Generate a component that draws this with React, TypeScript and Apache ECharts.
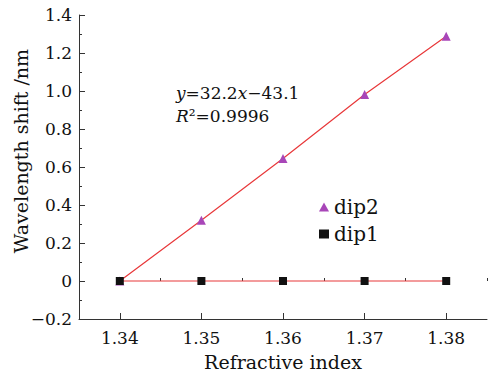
import React, { useEffect, useRef } from "react";
import * as echarts from "echarts";

const xValues = [1.34, 1.35, 1.36, 1.37, 1.38];
const dip1Values = [0, 0, 0, 0, 0];
const dip2Values = [0, 0.32, 0.645, 0.982, 1.288];
const xMajorTicks = [1.34, 1.35, 1.36, 1.37, 1.38];
const xMinorTicks = [1.335, 1.345, 1.355, 1.365, 1.375, 1.385];
const seriesNames = ["dip2", "dip1"];
const yAxisTitle = "Wavelength shift /nm";
const xAxisTitle = "Refractive index";
const eqLine = "{i|y}=32.2{i|x}\u221243.1";
const r2Line = "{i|R}\u00b2=0.9996";

const FONT = "DejaVu Serif";

export default function App() {
  const ref = useRef<HTMLDivElement>(null);
  useEffect(() => {
    if (!ref.current) return;
    const chart = echarts.init(ref.current, null, { renderer: "svg" });
    const axisColor = "#333";
    chart.setOption({
      animation: false,
      backgroundColor: "#fff",
      grid: { left: 79, right: 12, top: 15, bottom: 57, outerBoundsMode: "none" },
      legend: {
        orient: "vertical",
        left: 314,
        top: 192,
        itemGap: 7,
        itemWidth: 10,
        itemHeight: 9,
        textStyle: { fontFamily: FONT, fontSize: 20, color: "#111" },
        data: [
          { name: seriesNames[0], icon: "triangle" },
          { name: seriesNames[1], icon: "rect" },
        ],
      },
      xAxis: [
        {
          type: "value",
          min: 1.335,
          max: 1.385,
          position: "bottom",
          axisLine: { show: true, onZero: false, lineStyle: { color: axisColor, width: 1 } },
          axisTick: { show: true, inside: true, length: 6, customValues: xMajorTicks, lineStyle: { color: axisColor } },
          axisLabel: {
            show: true,
            customValues: xMajorTicks,
            margin: 10,
            fontFamily: FONT,
            fontSize: 17,
            color: "#111",
            formatter: (v: number) => v.toFixed(2),
          },
          splitLine: { show: false },
          name: xAxisTitle,
          nameLocation: "middle",
          nameGap: 33,
          nameTextStyle: { fontFamily: FONT, fontSize: 19, color: "#111" },
        },
        {
          type: "value",
          min: 1.335,
          max: 1.385,
          position: "bottom",
          axisLine: { show: false },
          axisTick: { show: true, inside: true, length: 3, customValues: xMinorTicks, lineStyle: { color: axisColor } },
          axisLabel: { show: false },
          splitLine: { show: false },
        },
      ],
      yAxis: {
        type: "value",
        min: -0.2,
        max: 1.4,
        interval: 0.2,
        axisLine: { show: true, onZero: false, lineStyle: { color: axisColor, width: 1 } },
        axisTick: { show: true, inside: true, length: 6, lineStyle: { color: axisColor } },
        minorTick: { show: true, splitNumber: 2, length: 3, lineStyle: { color: axisColor } },
        axisLabel: {
          margin: 7,
          fontFamily: FONT,
          fontSize: 17,
          color: "#111",
          formatter: (v: number) => {
            if (Math.abs(v) < 1e-9) return "0";
            const s = Math.abs(v).toFixed(1);
            return v < 0 ? "\u2212" + s : s;
          },
        },
        splitLine: { show: false },
      },
      graphic: [
        {
          type: "text",
          x: 21,
          y: 151,
          rotation: Math.PI / 2,
          style: {
            text: yAxisTitle,
            fontFamily: FONT,
            fontSize: 19,
            fill: "#111",
            align: "center",
            verticalAlign: "middle",
          },
        },
        {
          type: "text",
          left: 176,
          top: 84,
          style: {
            text: eqLine,
            fontFamily: FONT,
            fontSize: 17,
            fill: "#111",
            rich: { i: { fontFamily: FONT, fontStyle: "italic", fontSize: 17, fill: "#111" } },
          },
        },
        {
          type: "text",
          left: 176,
          top: 107,
          style: {
            text: r2Line,
            fontFamily: FONT,
            fontSize: 17,
            fill: "#111",
            rich: { i: { fontFamily: FONT, fontStyle: "italic", fontSize: 17, fill: "#111" } },
          },
        },
      ],
      series: [
        {
          name: seriesNames[0],
          type: "line",
          xAxisIndex: 0,
          data: xValues.map((x, i) => [x, dip2Values[i]]),
          symbol: "triangle",
          symbolSize: 9,
          itemStyle: { color: "#a846b8" },
          lineStyle: { color: "#e8383a", width: 1.2 },
          z: 2,
        },
        {
          name: seriesNames[1],
          type: "line",
          xAxisIndex: 0,
          data: xValues.map((x, i) => [x, dip1Values[i]]),
          symbol: "rect",
          symbolSize: 8,
          itemStyle: { color: "#111" },
          lineStyle: { color: "#e8383a", width: 1.2 },
          z: 3,
        },
      ],
    });
    return () => chart.dispose();
  }, []);
  return <div ref={ref} style={{ width: 499, height: 376, position: "absolute", left: 0, top: 0 }} />;
}
